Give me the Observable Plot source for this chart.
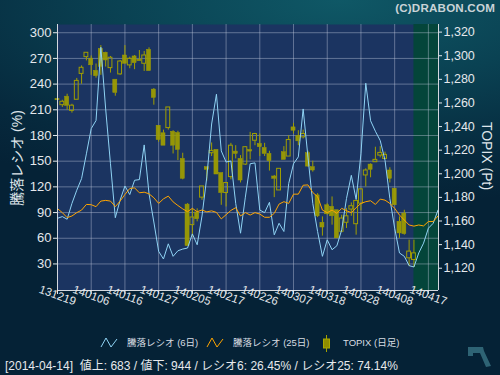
<!DOCTYPE html>
<html><head><meta charset="utf-8">
<script src="https://cdn.jsdelivr.net/npm/d3@7"></script>
<script src="https://cdn.jsdelivr.net/npm/@observablehq/plot@0.6"></script>
<style>
html,body{margin:0;padding:0;background:#052539;}
#wrap{position:relative;width:500px;height:375px;overflow:hidden;
  background: radial-gradient(ellipse 110% 55% at 68% 0%, #0f5866 0%, #0a4253 40%, #06293d 80%, #052236 100%);
  font-family:"Liberation Sans","Noto Sans CJK JP",sans-serif;color:#e2e6ea;}
#chart{position:absolute;left:0;top:0;}
.abs{position:absolute;white-space:nowrap;}
#copy{right:5px;top:1px;font-weight:bold;font-size:11.6px;line-height:13px;color:#c9d3d7;letter-spacing:0.2px;}
.ytitle{font-size:14px;line-height:16px;color:#dfe5ea;transform:translate(-50%,-50%) rotate(-90deg);}
.ytitleR{font-size:14px;line-height:16px;color:#dfe5ea;transform:translate(-50%,-50%) rotate(90deg);}
.leg{font-size:9.5px;line-height:12px;color:#d8dde2;top:337px;}
#foot{left:5px;top:358px;font-size:12px;line-height:16px;color:#e6e9ec;}
</style></head><body>
<div id="wrap">
<div id="chart"></div>
<div class="abs" id="copy">(C)DRABON.COM</div>
<div class="abs ytitle" style="left:17px;top:158px;">騰落レシオ (%)</div>
<div class="abs ytitleR" style="left:487px;top:156px;">TOPIX (Pt)</div>
<svg class="abs" style="left:100px;top:337px" width="18" height="12"><polyline points="1,10 6,1 11,10 17,2" fill="none" stroke="#8fd3f4" stroke-width="1"/></svg>
<div class="abs leg" style="left:127px;">騰落レシオ (6日)</div>
<svg class="abs" style="left:206px;top:337px" width="18" height="12"><polyline points="1,10 6,1 11,10 17,2" fill="none" stroke="#ffa500" stroke-width="1"/></svg>
<div class="abs leg" style="left:233px;">騰落レシオ (25日)</div>
<svg class="abs" style="left:321px;top:334px" width="12" height="20"><line x1="5.5" y1="1" x2="5.5" y2="18" stroke="#a3a100" stroke-width="1"/><rect x="2.5" y="5" width="6" height="9" fill="#8f8d00" stroke="#aaa800" stroke-width="1"/></svg>
<div class="abs leg" style="left:343px;">TOPIX (日足)</div>
<div class="abs" id="foot">[2014-04-14]&nbsp; 値上: 683 / 値下: 944 / レシオ6: 26.45% / レシオ25: 74.14%</div>
<svg class="abs" style="left:465px;top:344px" width="28" height="26"><path d="M3,3 L18,3 L19,7 L26,22 L21,23 L15,9 L8,9 L8,12 L3,12 Z" fill="#2e6374"/></svg>
</div>
<script>
// ---- data ----
const tradeDates = ["2013-12-19","2013-12-20","2013-12-24","2013-12-25","2013-12-26","2013-12-27","2013-12-30",
 "2014-01-06","2014-01-07","2014-01-08","2014-01-09","2014-01-10","2014-01-14","2014-01-15","2014-01-16","2014-01-17",
 "2014-01-20","2014-01-21","2014-01-22","2014-01-23","2014-01-24","2014-01-27","2014-01-28","2014-01-29","2014-01-30","2014-01-31",
 "2014-02-03","2014-02-04","2014-02-05","2014-02-06","2014-02-07","2014-02-10","2014-02-12","2014-02-13","2014-02-14","2014-02-17",
 "2014-02-18","2014-02-19","2014-02-20","2014-02-21","2014-02-24","2014-02-25","2014-02-26","2014-02-27","2014-02-28",
 "2014-03-03","2014-03-04","2014-03-05","2014-03-06","2014-03-07","2014-03-10","2014-03-11","2014-03-12","2014-03-13","2014-03-14",
 "2014-03-17","2014-03-18","2014-03-19","2014-03-20","2014-03-24","2014-03-25","2014-03-26","2014-03-27","2014-03-28","2014-03-31",
 "2014-04-01","2014-04-02","2014-04-03","2014-04-04","2014-04-07","2014-04-08","2014-04-09","2014-04-10","2014-04-11","2014-04-14"];

const topixOpen  = [1263.4,1258.1,1265.3,1253.3,1262.7,1284.6,1298.8,1297.5,1287.2,1305.7,1302.5,1289.5,1279.7,1284.2,1300.2,1291.8,1299.4,1296.6,1293.2,1305.0,1271.3,1240.7,1234.3,1238.7,1235.6,1234.5,1212.6,1173.9,1156.5,1167.2,1179.8,1205.6,1217.4,1220.2,1200.6,1183.7,1197.2,1218.8,1212.6,1207.8,1220.2,1228.0,1225.3,1221.9,1216.8,1197.7,1185.9,1218.3,1214.6,1239.3,1232.2,1230.9,1217.4,1205.6,1181.7,1158.5,1173.3,1172.0,1169.1,1150.9,1158.5,1169.7,1157.3,1174.7,1198.6,1207.8,1209.8,1215.4,1212.6,1202.8,1187.4,1159.3,1166.3,1128.4,1127.0];
const topixHigh  = [1267.4,1262.3,1267.4,1258.9,1280.8,1291.4,1302.7,1299.8,1293.0,1308.6,1303.0,1299.4,1279.7,1296.0,1308.6,1298.8,1300.2,1304.4,1303.6,1306.7,1272.2,1240.7,1237.0,1256.2,1236.5,1236.0,1217.4,1174.7,1170.3,1170.3,1189.3,1205.6,1226.1,1220.2,1200.6,1192.2,1225.8,1223.8,1215.4,1223.0,1235.1,1234.3,1233.7,1225.8,1219.1,1198.6,1204.2,1223.0,1232.3,1242.7,1236.5,1237.0,1219.1,1210.7,1183.2,1163.5,1174.7,1180.4,1169.1,1164.9,1170.5,1175.3,1177.5,1187.4,1204.2,1208.4,1222.5,1223.0,1218.3,1205.1,1187.4,1163.5,1169.1,1143.8,1143.8];
const topixLow   = [1258.9,1256.2,1253.9,1251.4,1262.7,1275.8,1295.6,1283.4,1281.0,1283.4,1290.4,1285.3,1265.7,1283.4,1293.2,1289.0,1288.2,1295.4,1286.7,1287.0,1258.1,1226.7,1223.8,1237.0,1216.8,1211.2,1194.9,1138.8,1146.7,1159.3,1177.5,1193.9,1214.6,1199.4,1173.3,1171.9,1194.9,1212.6,1192.2,1207.0,1211.8,1223.8,1214.6,1214.6,1202.3,1179.8,1185.9,1211.8,1214.6,1233.7,1223.8,1229.5,1205.6,1201.4,1162.9,1147.2,1164.9,1156.5,1145.3,1150.1,1153.7,1164.0,1148.0,1168.6,1188.8,1196.6,1209.8,1213.5,1212.6,1192.2,1173.3,1145.3,1148.0,1121.4,1120.6];
const topixClose = [1262.3,1261.0,1257.5,1257.7,1278.7,1289.8,1302.5,1291.9,1282.7,1290.5,1296.0,1298.3,1268.5,1295.1,1293.2,1297.4,1293.7,1295.4,1300.2,1287.0,1264.3,1228.6,1223.8,1256.2,1223.8,1220.2,1195.8,1138.8,1163.0,1161.5,1189.3,1203.4,1219.4,1199.4,1183.7,1192.2,1223.8,1216.8,1194.3,1222.5,1218.8,1233.7,1222.5,1216.8,1210.7,1195.8,1204.2,1211.8,1228.6,1236.5,1227.5,1233.7,1206.1,1202.8,1164.0,1154.5,1165.7,1164.0,1145.3,1162.1,1164.0,1172.5,1177.0,1186.8,1202.8,1203.4,1211.8,1217.7,1216.0,1195.8,1173.3,1149.5,1148.9,1134.1,1132.6];

// 騰落レシオ, one value per slot (slots continue into the shaded area)
const ratio6  = [83.3,85.3,82.2,100.7,116.1,129.7,158.6,188,197.5,283,211,147,84,104.5,121,111,127.7,128.5,169,112,79,44.7,35.8,53.5,38.9,45.4,47.4,48.6,65.1,52.4,86,131.6,193.4,228.2,162,149,150.2,100.7,65.9,108,147,148,92.9,89.9,102,64,77.5,67.9,123.9,147,155,211,154.8,100.7,67.9,38.9,58.2,46.6,51.2,69.8,106.5,133.5,105.3,158.6,241,197.2,184.9,174.1,150.9,106.5,71.7,42.8,38.9,28.0,26.45,42.8,54.3,71.7,77.5,92.9];
const ratio25 = [94.6,89.9,84.1,86,89.9,92.9,99.5,99.2,96.9,103.4,104.2,103.4,96.9,103.4,111.1,118.1,118.9,113.1,113.8,111.9,107.3,100.7,106,109.2,102.5,98.2,94.3,91,94.9,91,93,90.8,92,90.2,82.6,87.5,92.5,95.7,86,90,87.1,89.9,88.3,84.5,84.5,89.1,99.9,102.7,100.7,111.5,111.5,121.9,122.3,113.4,108.5,92.9,89.9,92.9,89.1,94.9,92.2,89.9,95.7,100.7,102.7,103.8,99.5,105.7,104.5,100.7,94.9,87.1,81.3,75.5,74.14,75.5,74.4,79.5,79.5,86];

const xTickSlots  = [0,7,14,21,28,35,42,49,56,63,70,77];
const xTickLabels = ["131219","140106","140116","140127","140205","140217","140226","140307","140318","140328","140408","140417"];
const leftTicks  = [30,60,90,120,150,180,210,240,270,300];
const rightTicks = [1120,1140,1160,1180,1200,1220,1240,1260,1280,1300,1320];
const futureStart = 74, lastSlot = 79.1;

// ---- build ----
const toLeft = v => 25.0 + (v - 1120) * 1.3785;   // TOPIX -> left-axis units
const fromLeft = u => 1120 + (u - 25.0) / 1.3785;

const candles = tradeDates.map((d, i) => {
  const o = toLeft(topixOpen[i]), c = toLeft(topixClose[i]);
  return {i, date: d, o, c, h: toLeft(topixHigh[i]), l: toLeft(topixLow[i]),
    top: Math.max(o, c), bot: Math.min(o, c), up: topixClose[i] > topixOpen[i]};
});
const minBody = 1.6;
const bodyY1 = d => (d.top - d.bot < minBody ? (d.top + d.bot) / 2 - minBody / 2 : d.bot);
const bodyY2 = d => (d.top - d.bot < minBody ? (d.top + d.bot) / 2 + minBody / 2 : d.top);
const r6 = ratio6.map((v, i) => ({i, v}));
const r25 = ratio25.map((v, i) => ({i, v}));
const tickLabel = new Map(xTickSlots.map((s, k) => [s, xTickLabels[k]]));
const rightPos = rightTicks.map(toLeft);

const candleCol = "#a09e00";
const gridCol = "#c6cee0";
const axisCol = "#d4d8de";

const chart = Plot.plot({
  width: 500, height: 375,
  marginLeft: 57, marginRight: 62, marginTop: 24, marginBottom: 85,
  x: {domain: [0, lastSlot], label: null},
  y: {domain: [-1, 309.6], label: null},
  style: {background: "transparent", fontFamily: "Liberation Sans, Noto Sans CJK JP, sans-serif", fontSize: "12px", color: "#e2e6ea", overflow: "visible"},
  marks: [
    Plot.frame({fill: "#1b3461", stroke: "none"}),
    Plot.rect([0], {x1: futureStart, x2: lastSlot, y1: -1, y2: 309.6, fill: "#04453a"}),
    Plot.gridY(leftTicks, {stroke: gridCol, strokeOpacity: 0.42}),
    Plot.gridX(xTickSlots, {stroke: gridCol, strokeOpacity: 0.42}),
    Plot.ruleX(candles, {x: "i", y1: "top", y2: "h", stroke: candleCol, strokeWidth: 1}),
    Plot.ruleX(candles, {x: "i", y1: "l", y2: "bot", stroke: candleCol, strokeWidth: 1}),
    Plot.rect(candles.filter(d => !d.up), {x1: d => d.i - 0.42, x2: d => d.i + 0.42, y1: bodyY1, y2: bodyY2, fill: candleCol, fillOpacity: 0.92, stroke: candleCol, strokeWidth: 0.5}),
    Plot.rect(candles.filter(d => d.up), {x1: d => d.i - 0.4, x2: d => d.i + 0.4, y1: bodyY1, y2: bodyY2, fill: "none", stroke: candleCol, strokeWidth: 1}),
    Plot.line(r6, {x: "i", y: "v", stroke: "#8fd3f4", strokeWidth: 1}),
    Plot.line(r25, {x: "i", y: "v", stroke: "#ffa500", strokeWidth: 1}),
    Plot.ruleX([0], {stroke: axisCol}),
    Plot.ruleX([lastSlot], {stroke: axisCol}),
    Plot.ruleY([-1], {stroke: axisCol}),
    Plot.axisY(leftTicks, {anchor: "left", tickSize: 4, tickPadding: 2, fontSize: 13, color: "#e4e8ec", label: null}),
    Plot.axisY(rightPos, {anchor: "right", tickSize: 3, tickPadding: 2, fontSize: 12.5, color: "#e4e8ec", label: null,
      tickFormat: u => d3.format(",")(Math.round(fromLeft(u)))}),
    Plot.axisX(xTickSlots, {anchor: "bottom", tickSize: 4, tickPadding: 1, tickRotate: 20, textAnchor: "middle",
      fontSize: 11.5, color: "#e4e8ec", label: null, tickFormat: s => tickLabel.get(s)})
  ]
});
document.getElementById("chart").appendChild(chart);
</script>
</body></html>
